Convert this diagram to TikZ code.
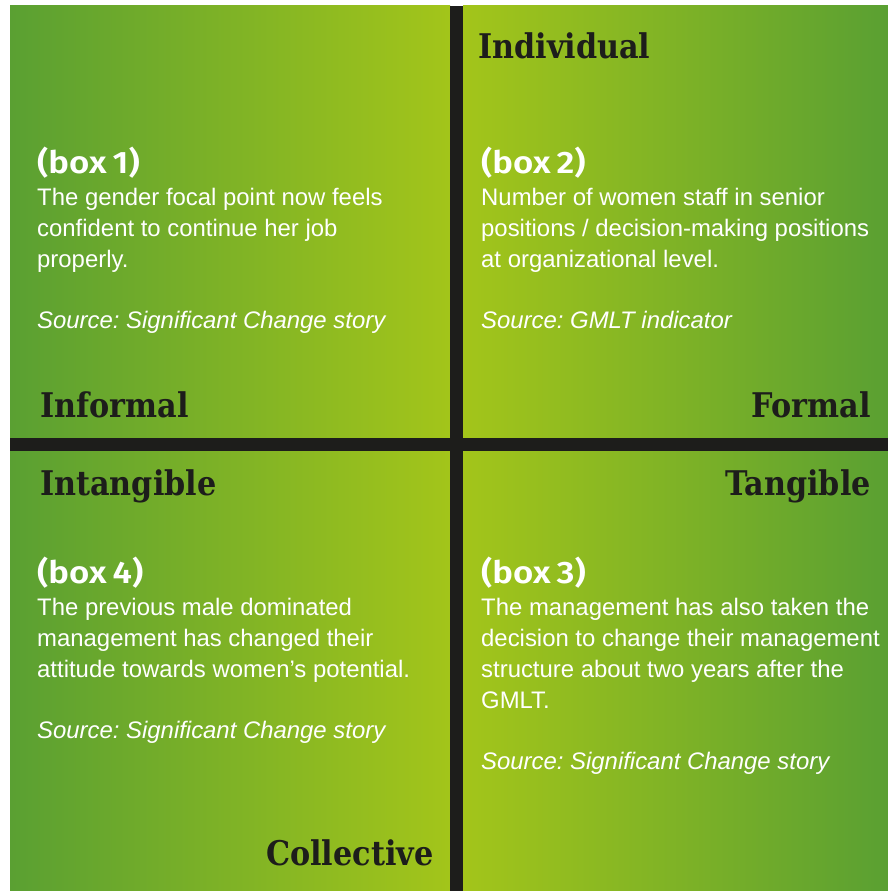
\documentclass[tikz,border=0pt]{standalone}
\usepackage{fontspec}
\setmainfont{Liberation Sans}
\newfontfamily\headfont{DejaVu Serif}[FakeStretch=0.89]
\newfontfamily\boxfont{Fira Sans SemiBold}[FakeStretch=1.12]
\definecolor{darkgr}{RGB}{90,160,50}
\definecolor{lightgr}{RGB}{163,197,26}
\definecolor{barblack}{RGB}{29,29,27}
\frenchspacing
\tikzset{
  head/.style={inner sep=0pt, text=barblack, font=\headfont\bfseries\fontsize{34}{34}\selectfont},
  boxtitle/.style={inner sep=0pt, anchor=base west, text=white, font=\boxfont\fontsize{31}{31}\selectfont},
  body/.style={inner sep=0pt, anchor=base west, text=white, font=\frenchspacing\fontsize{23.9}{24}\selectfont},
  src/.style={body, font=\frenchspacing\itshape\fontsize{23.9}{24}\selectfont}
}
\begin{document}
\begin{tikzpicture}[x=1pt,y=-1pt]
\useasboundingbox (0,0) rectangle (888,891);
% quadrants
\shade[left color=darkgr, right color=lightgr] (10,6) rectangle (450,438);
\shade[left color=lightgr, right color=darkgr] (463,6) rectangle (888,438);
\shade[left color=darkgr, right color=lightgr] (10,451) rectangle (450,891);
\shade[left color=lightgr, right color=darkgr] (463,451) rectangle (888,891);
% bars
\fill[barblack] (450,6) rectangle (463,891);
\fill[barblack] (10,438) rectangle (888,451);
% headings
\node[head, anchor=base west] (individual) at (478,59) {Individual};
\node[head, anchor=base west] (informal) at (40,417) {Informal};
\node[head, anchor=base east] (formal) at (871,417) {Formal};
\node[head, anchor=base west] (intangible) at (40,495) {Intangible};
\node[head, anchor=base east] (tangible) at (871,495) {Tangible};
\node[head, anchor=base west] (collective) at (266,865) {Collective};
% box 1
\node[boxtitle] (b1t) at (37,173) {(box\hspace{0.2em}1)};
\node[body] (b1a) at (37,205) {The gender focal point now feels};
\node[body] (b1b) at (37,236) {confident to continue her job};
\node[body] (b1c) at (37,267) {properly.};
\node[src] (b1s) at (37,328) {Source: Significant Change story};
% box 2
\node[boxtitle] (b2t) at (481,173) {(box\hspace{0.2em}2)};
\node[body] (b2a) at (481,205) {Number of women staff in senior};
\node[body] (b2b) at (481,236) {positions / decision-making positions};
\node[body] (b2c) at (481,267) {at organizational level.};
\node[src] (b2s) at (481,328) {Source: GMLT indicator};
% box 4
\node[boxtitle] (b4t) at (37,583) {(box\hspace{0.2em}4)};
\node[body] (b4a) at (37,615) {The previous male dominated};
\node[body] (b4b) at (37,646) {management has changed their};
\node[body] (b4c) at (37,677) {attitude towards women’s potential.};
\node[src] (b4s) at (37,738) {Source: Significant Change story};
% box 3
\node[boxtitle] (b3t) at (481,583) {(box\hspace{0.2em}3)};
\node[body] (b3a) at (481,615) {The management has also taken the};
\node[body] (b3b) at (481,646) {decision to change their management};
\node[body] (b3c) at (481,677) {structure about two years after the};
\node[body] (b3d) at (481,708) {GMLT.};
\node[src] (b3s) at (481,769) {Source: Significant Change story};
\end{tikzpicture}
\end{document}
